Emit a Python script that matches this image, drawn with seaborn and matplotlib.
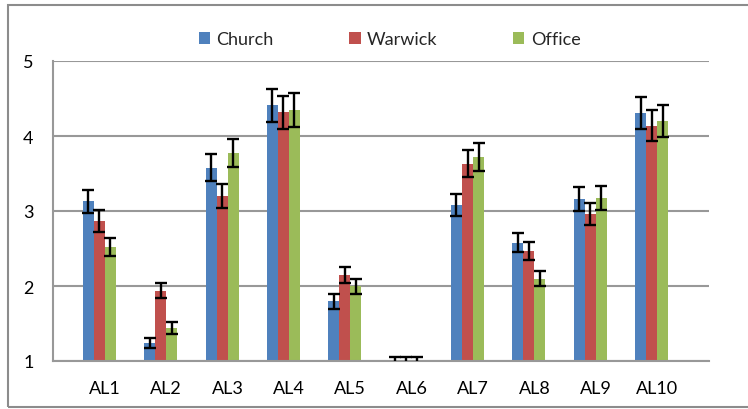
import numpy as np
import pandas as pd
import seaborn as sns
import matplotlib
matplotlib.use('Agg')
import matplotlib.pyplot as plt
from matplotlib.patches import Rectangle


categories = ['AL1', 'AL2', 'AL3', 'AL4', 'AL5', 'AL6', 'AL7', 'AL8', 'AL9', 'AL10']
series = ['Church', 'Warwick', 'Office']

church = [3.13, 1.24, 3.58, 4.41, 1.80, 1.00, 3.08, 2.58, 3.16, 4.31]
church_err = [0.155, 0.065, 0.18, 0.22, 0.10, 0.05, 0.15, 0.125, 0.155, 0.215]
warwick = [2.87, 1.94, 3.20, 4.32, 2.15, 1.00, 3.63, 2.47, 2.96, 4.14]
warwick_err = [0.145, 0.10, 0.165, 0.22, 0.11, 0.05, 0.18, 0.12, 0.145, 0.205]
office = [2.52, 1.44, 3.77, 4.35, 2.00, 1.00, 3.72, 2.10, 3.18, 4.20]
office_err = [0.125, 0.075, 0.185, 0.225, 0.10, 0.05, 0.19, 0.10, 0.16, 0.21]

colors = ['#4F81BD', '#C0504D', '#9BBB59']
# the original chart has an empty 4th series, which shifts the clusters left
blank = ' '

values = {'Church': church, 'Warwick': warwick, 'Office': office}
errors = {'Church': church_err, 'Warwick': warwick_err, 'Office': office_err}

rows = []
for s in series:
    for c, v in zip(categories, values[s]):
        rows.append({'cat': c, 'series': s, 'value': v})
for c in categories:
    rows.append({'cat': c, 'series': blank, 'value': 0.0})
df = pd.DataFrame(rows)

sns.set_style('white')
plt.rcParams['font.family'] = ['Lato', 'DejaVu Sans']

fig = plt.figure(figsize=(7.48, 4.10), dpi=100)
ax = fig.add_axes([53 / 748, 1 - 362 / 410, 656 / 748, 300 / 410])

sns.barplot(data=df, x='cat', y='value', hue='series', order=categories,
            hue_order=series + [blank], palette=colors + ['white'],
            width=0.72, errorbar=None, linewidth=0, saturation=1, ax=ax)

for container, s in zip(ax.containers, series):
    xs = [p.get_x() + p.get_width() / 2 for p in container.patches]
    ax.errorbar(xs, values[s], yerr=errors[s], fmt='none', ecolor='black',
                elinewidth=1.7, capsize=4.5, capthick=1.7, zorder=5)

ax.set_ylim(1, 5)
ax.set_yticks([1, 2, 3, 4, 5])
ax.set_xlabel('')
ax.set_ylabel('')
ax.grid(axis='y', color='#989898', linewidth=1.5)
ax.set_axisbelow(True)
for side in ['top', 'right']:
    ax.spines[side].set_visible(False)
for side in ['left', 'bottom']:
    ax.spines[side].set_color('#989898')
    ax.spines[side].set_linewidth(1.5)
ax.tick_params(axis='both', length=0, labelsize=13, colors='black')
ax.tick_params(axis='y', pad=14)
ax.tick_params(axis='x', pad=14)

handles, labels = ax.get_legend_handles_labels()
ax.legend_.remove()
fig.legend(handles[:3], labels[:3], loc='center', bbox_to_anchor=(0.521, 0.902),
           ncol=3, frameon=False, fontsize=13, handlelength=0.62, handleheight=0.62,
           handletextpad=0.35, columnspacing=4.2)

fig.patches.append(Rectangle((8 / 748, 2 / 410), 1.0, 1 - 8 / 410,
                             transform=fig.transFigure, fill=False,
                             edgecolor='#8c8c8c', linewidth=1.5))

fig.savefig('out.png', dpi=100)
